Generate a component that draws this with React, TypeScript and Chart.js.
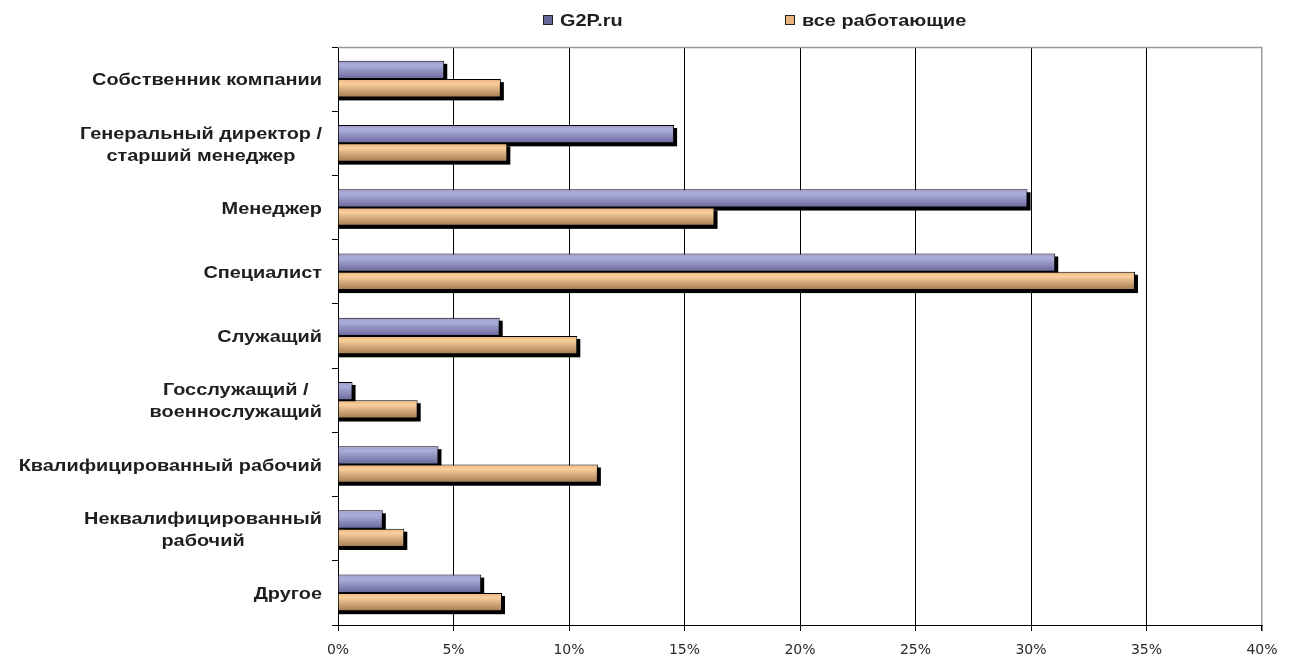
import React, { useEffect, useRef } from "react";
import { Chart, registerables } from "chart.js";

Chart.register(...registerables);

const categories: string[][] = [
  ["Собственник компании"],
  ["Генеральный директор /", "старший менеджер"],
  ["Менеджер"],
  ["Специалист"],
  ["Служащий"],
  ["Госслужащий /", "военнослужащий"],
  ["Квалифицированный рабочий"],
  ["Неквалифицированный", "рабочий"],
  ["Другое"],
];
const seriesNames = ["G2P.ru", "все работающие"];
const g2pValues = [4.6, 14.55, 29.85, 31.05, 7.0, 0.63, 4.35, 1.94, 6.2];
const allWorkersValues = [7.05, 7.33, 16.3, 34.5, 10.36, 3.45, 11.25, 2.87, 7.1];
const xMin = 0;
const xMax = 40;
const xStep = 5;

const W = 1293;
const H = 659;
const CAT_PCT = 0.57;
const LABEL_FONT = "bold 17px 'Liberation Sans', Arial, sans-serif";
const STRETCH = 1.17;
const TEXT_COLOR = "#1e1e1e";

const blueStops = ["#aeaedc", "#9a9aca", "#66669a"];
const orangeStops = ["#fbcf9c", "#e8b27c", "#a07a52"];

function gradientFill(stops: string[]) {
  return (c: any) => {
    const chart = c.chart;
    const area = chart.chartArea;
    const yScale = chart.scales && chart.scales.y;
    if (!area || !yScale || c.type !== "data") return stops[1];
    const center = yScale.getPixelForValue(c.dataIndex);
    const catH = (area.bottom - area.top) / categories.length;
    const th = (catH * CAT_PCT) / 2;
    const top = c.datasetIndex === 0 ? center - th : center;
    const g = chart.ctx.createLinearGradient(0, top, 0, top + th);
    g.addColorStop(0, stops[1]);
    g.addColorStop(0.25, stops[0]);
    g.addColorStop(1, stops[2]);
    return g;
  };
}

function stretchedText(ctx: CanvasRenderingContext2D, text: string, x: number, y: number) {
  ctx.save();
  ctx.translate(x, y);
  ctx.scale(STRETCH, 1);
  ctx.fillText(text, 0, 0);
  ctx.restore();
}

const decorPlugin = {
  id: "decor",
  beforeDatasetsDraw(chart: any) {
    const ctx = chart.ctx;
    ctx.save();
    ctx.fillStyle = "#000";
    chart.data.datasets.forEach((_: any, di: number) => {
      const meta = chart.getDatasetMeta(di);
      meta.data.forEach((el: any) => {
        const p = el.getProps(["x", "y", "base", "height"], true);
        ctx.fillRect(p.base, p.y - p.height / 2 + 3, p.x - p.base + 3, p.height);
      });
    });
    ctx.restore();
  },
  afterDraw(chart: any) {
    const ctx = chart.ctx;
    const area = chart.chartArea;
    const yScale = chart.scales.y;
    ctx.save();
    // plot border (top)
    ctx.strokeStyle = "#999";
    ctx.lineWidth = 1.5;
    ctx.beginPath();
    ctx.moveTo(area.left, area.top + 0.5);
    ctx.lineTo(area.right, area.top + 0.5);
    ctx.stroke();

    // category labels
    ctx.font = LABEL_FONT;
    ctx.fillStyle = TEXT_COLOR;
    ctx.textBaseline = "middle";
    ctx.textAlign = "center";
    const rightX = area.left - 16;
    const lh = 22;
    categories.forEach((lines, i) => {
      const cy = yScale.getPixelForValue(i) + 1.5;
      const maxW = Math.max(...lines.map((l) => ctx.measureText(l).width)) * STRETCH;
      const cx = rightX - maxW / 2;
      lines.forEach((l, j) => {
        stretchedText(ctx, l, cx, cy + (j - (lines.length - 1) / 2) * lh);
      });
    });

    // legend
    const colors = [blueStops[2], orangeStops[1]];
    const legendX = [543, 785];
    ctx.textAlign = "left";
    seriesNames.forEach((name, i) => {
      const bx = legendX[i];
      ctx.fillStyle = colors[i];
      ctx.fillRect(bx, 15, 10, 10);
      ctx.strokeStyle = "#222";
      ctx.lineWidth = 1;
      ctx.strokeRect(bx + 0.5, 15.5, 9, 9);
      ctx.fillStyle = TEXT_COLOR;
      stretchedText(ctx, name, bx + 17, 21);
    });
    ctx.restore();
  },
};

export default function App() {
  const ref = useRef<HTMLCanvasElement | null>(null);
  useEffect(() => {
    document.body.style.margin = "0";
    const canvas = ref.current;
    if (!canvas) return;
    const chart = new Chart(canvas, {
      type: "bar",
      data: {
        labels: categories.map((c) => c.join(" ")),
        datasets: [
          {
            label: seriesNames[0],
            data: g2pValues,
            backgroundColor: gradientFill(blueStops),
            borderColor: "#000",
            borderWidth: 1,
            categoryPercentage: CAT_PCT,
            barPercentage: 1,
          },
          {
            label: seriesNames[1],
            data: allWorkersValues,
            backgroundColor: gradientFill(orangeStops),
            borderColor: "#000",
            borderWidth: 1,
            categoryPercentage: CAT_PCT,
            barPercentage: 1,
          },
        ],
      },
      options: {
        indexAxis: "y",
        responsive: false,
        animation: false,
        devicePixelRatio: 1,
        layout: { padding: { top: 47, right: 31, left: 0, bottom: 0 } },
        plugins: {
          legend: { display: false },
          tooltip: { enabled: false },
        },
        scales: {
          x: {
            type: "linear",
            min: xMin,
            max: xMax,
            ticks: {
              stepSize: xStep,
              callback: (v: any) => v + "%",
              color: "#2a2a2a",
              font: { family: "'DejaVu Sans', Verdana, sans-serif", size: 14 },
              padding: 11,
              maxRotation: 0,
            },
            grid: {
              color: (c: any) => (c.tick && c.tick.value === xMax ? "#999" : "#000"),
              lineWidth: (c: any) => (c.tick && c.tick.value === xMax ? 1.5 : 1),
              tickLength: 6,
              tickColor: "#000",
            },
            border: { color: "#000", width: 1 },
            afterFit: (s: any) => {
              s.height = H - 625;
            },
          },
          y: {
            type: "category",
            ticks: { display: false },
            grid: {
              drawOnChartArea: false,
              drawTicks: true,
              tickLength: 6,
              color: "#000",
              offset: true,
            },
            border: { color: "#000", width: 1 },
            afterFit: (s: any) => {
              s.width = 338;
            },
          },
        },
      },
      plugins: [decorPlugin],
    });
    return () => chart.destroy();
  }, []);
  return (
    <div style={{ width: W, height: H, background: "#fff" }}>
      <canvas ref={ref} width={W} height={H} style={{ display: "block" }} />
    </div>
  );
}
